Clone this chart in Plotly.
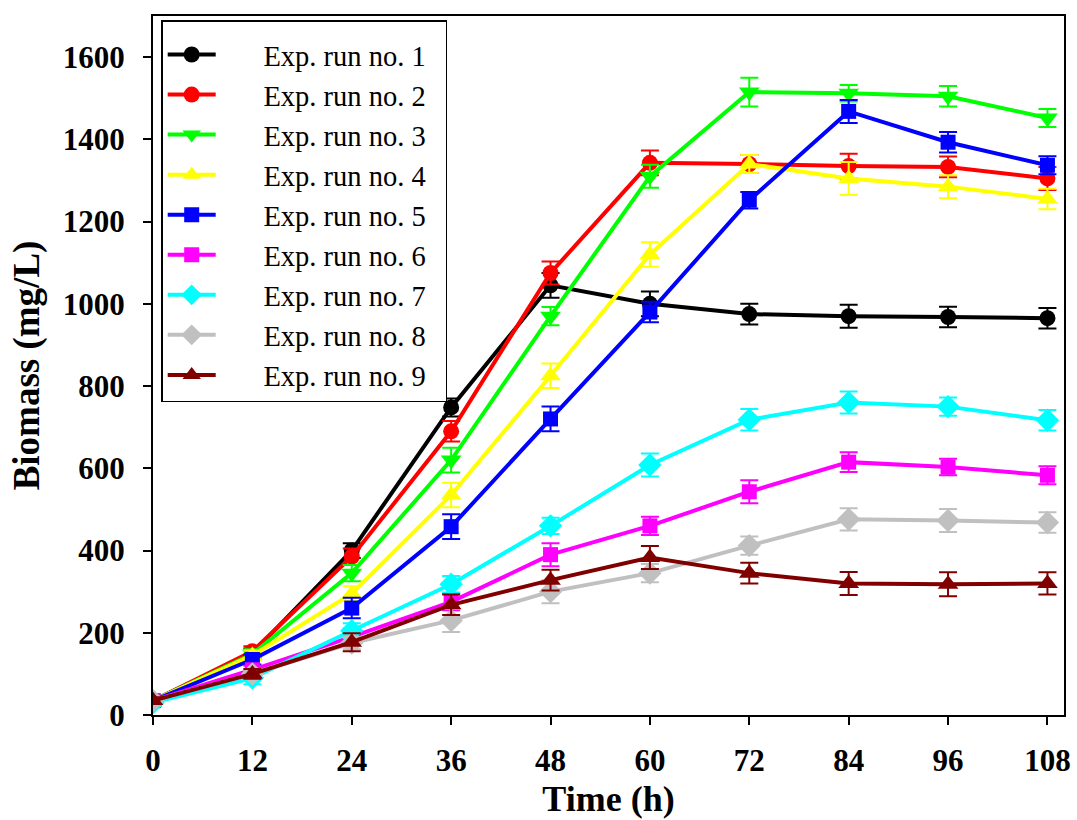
import plotly.graph_objects as go

time_h = [0, 12, 24, 36, 48, 60, 72, 84, 96, 108]

run1 = [35, 150, 400, 748, 1045, 1000, 975, 970, 968, 965]
run2 = [35, 155, 385, 690, 1075, 1343, 1340, 1335, 1333, 1305]
run3 = [35, 148, 345, 620, 970, 1310, 1515, 1512, 1505, 1452]
run4 = [35, 145, 295, 535, 825, 1120, 1340, 1305, 1285, 1255]
run5 = [35, 135, 260, 458, 720, 980, 1252, 1468, 1393, 1337]
run6 = [35, 110, 190, 275, 390, 460, 543, 615, 603, 583]
run7 = [30, 90, 205, 318, 460, 608, 718, 760, 750, 717]
run8 = [35, 100, 175, 230, 300, 345, 412, 476, 473, 468]
run9 = [35, 100, 177, 268, 328, 383, 345, 320, 318, 320]

err1 = [8, 12, 18, 22, 30, 30, 25, 28, 25, 25]
err2 = [8, 12, 20, 25, 28, 30, 22, 30, 25, 28]
err3 = [8, 12, 20, 30, 22, 28, 35, 20, 25, 22]
err4 = [8, 12, 18, 30, 30, 30, 22, 40, 28, 25]
err5 = [8, 12, 25, 30, 30, 25, 20, 28, 25, 22]
err6 = [8, 10, 20, 20, 28, 22, 28, 24, 20, 22]
err7 = [8, 15, 18, 20, 20, 28, 26, 27, 22, 25]
err8 = [8, 10, 15, 28, 28, 22, 22, 27, 28, 25]
err9 = [8, 12, 22, 25, 25, 28, 25, 28, 29, 27]

names = ["Exp. run no. 1", "Exp. run no. 2", "Exp. run no. 3", "Exp. run no. 4",
         "Exp. run no. 5", "Exp. run no. 6", "Exp. run no. 7", "Exp. run no. 8",
         "Exp. run no. 9"]
series = [run1, run2, run3, run4, run5, run6, run7, run8, run9]
errors = [err1, err2, err3, err4, err5, err6, err7, err8, err9]
colors = ["#000000", "#FF0000", "#00FF00", "#FFFF00", "#0000FF",
          "#FF00FF", "#00FFFF", "#C0C0C0", "#800000"]
symbols = ["circle", "circle", "triangle-down", "triangle-up", "square",
           "square", "diamond", "diamond", "triangle-up"]
sizes = [16, 16, 18, 18, 15, 15, 18, 18, 18]

pad = "\u00a0" * 6
tail = "\u00a0" * 2

fig = go.Figure()
for name, y, e, c, s, sz in zip(names, series, errors, colors, symbols, sizes):
    fig.add_trace(go.Scatter(
        x=time_h, y=y, name=pad + name + tail, mode="lines+markers",
        line=dict(color=c, width=4),
        marker=dict(color=c, symbol=s, size=sz, line=dict(width=0)),
        error_y=dict(type="data", array=e, visible=True, color=c,
                     thickness=2, width=9),
    ))

font_family = "Liberation Serif, Times New Roman, serif"
fig.update_layout(
    width=1077, height=820,
    margin=dict(l=153, r=13, t=16, b=105, autoexpand=False),
    paper_bgcolor="white", plot_bgcolor="white",
    font=dict(family=font_family, color="black"),
    showlegend=True,
    legend=dict(
        x=0.009, y=0.994, xanchor="left", yanchor="top",
        bgcolor="white", bordercolor="black", borderwidth=1.5,
        font=dict(family=font_family, size=28.5, color="black"),
        itemwidth=48, tracegroupgap=0,
        title=dict(text=" ", font=dict(size=6)),
    ),
)
fig.update_xaxes(
    range=[0, 110], tickvals=time_h, ticktext=[str(t) for t in time_h],
    automargin=False,
    showgrid=False, zeroline=False,
    showline=True, linecolor="black", linewidth=2, mirror=True,
    ticks="outside", ticklen=8, tickwidth=2, tickcolor="black",
    tickfont=dict(family=font_family, size=31, color="black", weight="bold"),
    ticklabelstandoff=9,
    title=dict(text="<b>Time (h)</b>", standoff=9,
               font=dict(family=font_family, size=36, color="black")),
)
fig.update_yaxes(
    range=[0, 1700], tickvals=[0, 200, 400, 600, 800, 1000, 1200, 1400, 1600],
    automargin=False,
    showgrid=False, zeroline=False,
    showline=True, linecolor="black", linewidth=2, mirror=True,
    ticks="outside", ticklen=8, tickwidth=2, tickcolor="black",
    tickfont=dict(family=font_family, size=31, color="black", weight="bold"),
    ticklabelstandoff=12,
    title=dict(text="<b>Biomass (mg/L)</b>", standoff=12,
               font=dict(family=font_family, size=37, color="black")),
)

fig.write_html("out.html")
